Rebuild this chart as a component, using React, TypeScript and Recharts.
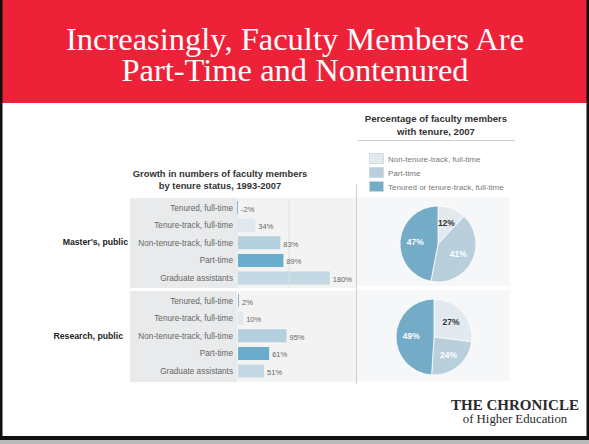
import { BarChart, Bar, XAxis, YAxis, Cell, LabelList, ReferenceLine, PieChart, Pie } from "recharts";

const categories = ["Tenured, full-time", "Tenure-track, full-time", "Non-tenure-track, full-time", "Part-time", "Graduate assistants"];
const mastersGrowth = [-2, 34, 83, 89, 180];
const researchGrowth = [2, 10, 95, 61, 51];
const barColors = ["#86b8cf", "#dfe8ee", "#b4cfdd", "#6aaccb", "#c2d8e3"];

const pieCategories = ["Non-tenure-track, full-time", "Part-time", "Tenured or tenure-track, full-time"];
const mastersTenure = [12, 41, 47];
const researchTenure = [27, 24, 49];
const pieColors = ["#e2eaef", "#b9cfdc", "#74abc6"];
const pieLabelColors = ["#333333", "#ffffff", "#ffffff"];

const SANS = "'Liberation Sans', Arial, sans-serif";
const SERIF = "'Liberation Serif', 'Times New Roman', serif";
const RADIAN = Math.PI / 180;

const toRows = (values: number[]) => categories.map((name, i) => ({ name, value: values[i] }));
const toSlices = (values: number[]) => pieCategories.map((name, i) => ({ name, value: values[i] }));

// value label to the right of each bar, sitting a bit low like the print
const barLabel = (props: any) => {
  const vb = props.viewBox ?? props;
  const x = vb.x ?? props.x;
  const y = vb.y ?? props.y;
  const w = vb.width ?? props.width ?? 0;
  const h = vb.height ?? props.height ?? 0;
  const right = Math.max(x, x + w);
  return (
    <text x={right + 3} y={y + h / 2 + 4} fontSize={7.5} fill="#666" fontFamily={SANS}>
      {props.value}%
    </text>
  );
};

// plain one-line tick so the long category names don't wrap
const categoryTick = (props: any) => (
  <text x={props.x} y={props.y} dy="0.35em" textAnchor="end" fontSize={8.2} fill="#666" fontFamily={SANS}>
    {props.payload.value}
  </text>
);

const pieLabel = (props: any) => {
  const { cx, cy, midAngle, outerRadius, index, value } = props;
  const r = outerRadius * 0.6;
  const x = cx + r * Math.cos(-midAngle * RADIAN);
  const y = cy + r * Math.sin(-midAngle * RADIAN);
  return (
    <text x={x} y={y} textAnchor="middle" dominantBaseline="central" fontSize={8.5} fontWeight="bold"
      fill={pieLabelColors[index]} fontFamily={SANS}>
      {value}%
    </text>
  );
};

const GrowthBars = ({ values, top, gap100 }: { values: number[]; top: number; gap100?: boolean }) => (
  <div style={{ position: "absolute", left: 130, top }}>
    <BarChart width={230} height={88} data={toRows(values)} layout="vertical"
      margin={{ top: 0, right: 20, bottom: 0, left: 0 }} barCategoryGap="12%">
      <XAxis type="number" domain={[-4, 200]} hide />
      <YAxis type="category" dataKey="name" width={106} axisLine={false} tickLine={false} tickSize={0} tickMargin={3}
        tick={categoryTick} interval={0} />
      {gap100 && <ReferenceLine x={100} stroke="#e2e2e2" strokeWidth={1} />}
      <Bar dataKey="value" isAnimationActive={false}>
        {values.map((_, i) => <Cell key={i} fill={barColors[i]} />)}
        <LabelList dataKey="value" content={barLabel} />
      </Bar>
    </BarChart>
  </div>
);

const TenurePie = ({ values, left, top }: { values: number[]; left: number; top: number }) => (
  <div style={{ position: "absolute", left, top }}>
    <PieChart width={96} height={88} margin={{ top: 0, right: 0, bottom: 0, left: 0 }}>
      <Pie data={toSlices(values)} dataKey="value" cx={48} cy={44} outerRadius={38} startAngle={90} endAngle={-270}
        stroke="#ffffff" strokeWidth={0.8} labelLine={false} label={pieLabel} isAnimationActive={false}>
        {values.map((_, i) => <Cell key={i} fill={pieColors[i]} />)}
      </Pie>
    </PieChart>
  </div>
);

export default function App() {
  return (
    <div style={{ position: "absolute", left: 0, top: 0, width: 589, height: 444, background: "#fff", overflow: "hidden" }}>
      <svg width={589} height={444} style={{ position: "absolute", left: 0, top: 0 }}>
        {/* red banner + title */}
        <rect x={0} y={0} width={589} height={103} fill="#ed2238" />
        <text x={295} y={50} textAnchor="middle" fontSize={32.5} fill="#fff" fontFamily={SERIF}>
          Increasingly, Faculty Members Are
        </text>
        <text x={295} y={81} textAnchor="middle" fontSize={32.5} fill="#fff" fontFamily={SERIF}>
          Part-Time and Nontenured
        </text>

        {/* left chart title */}
        <text x={220} y={177} textAnchor="middle" fontSize={9.4} fontWeight="bold" fill="#333" fontFamily={SANS}>
          Growth in numbers of faculty members
        </text>
        <text x={220} y={189} textAnchor="middle" fontSize={9.4} fontWeight="bold" fill="#333" fontFamily={SANS}>
          by tenure status, 1993-2007
        </text>

        {/* panels behind bars */}
        <rect x={130} y={198} width={108} height={90} fill="#e8eaeb" />
        <rect x={238} y={198} width={118} height={90} fill="#f3f3f3" />
        <rect x={130} y={291} width={107} height={91} fill="#e8eaeb" />
        <rect x={237} y={291} width={119} height={91} fill="#f3f3f3" />
        <line x1={356.5} y1={184} x2={356.5} y2={384} stroke="#cfcfcf" strokeWidth={1} />

        <text x={128} y={245} textAnchor="end" fontSize={8.7} fontWeight="bold" fill="#222" fontFamily={SANS}>
          Master's, public
        </text>
        <text x={123} y={339} textAnchor="end" fontSize={8.7} fontWeight="bold" fill="#222" fontFamily={SANS}>
          Research, public
        </text>

        {/* right chart title + legend */}
        <text x={436} y={122} textAnchor="middle" fontSize={9.6} fontWeight="bold" fill="#333" fontFamily={SANS}>
          Percentage of faculty members
        </text>
        <text x={436} y={135} textAnchor="middle" fontSize={9.6} fontWeight="bold" fill="#333" fontFamily={SANS}>
          with tenure, 2007
        </text>
        <line x1={358} y1={140.5} x2={515} y2={140.5} stroke="#cccccc" strokeWidth={1} />
        {pieCategories.map((name, i) => (
          <g key={name}>
            <rect x={369.5} y={153.5 + i * 14} width={14} height={10} fill={pieColors[i]} stroke="#c9d6de" strokeWidth={0.8} />
            <text x={388} y={161.5 + i * 14} fontSize={8} fill="#777" fontFamily={SANS}>{name}</text>
          </g>
        ))}

        {/* pie panels */}
        <rect x={357} y={197} width={153} height={89} fill="#f6f7f8" />
        <rect x={357} y={290} width={153} height={91} fill="#f6f7f8" />

        {/* logo */}
        <text x={515} y={410} textAnchor="middle" fontSize={15} fontWeight="bold" fill="#2a2a2a" fontFamily={SERIF}>
          THE CHRONICLE
        </text>
        <text x={515} y={423} textAnchor="middle" fontSize={12.8} fill="#2a2a2a" fontFamily={SERIF}>
          of Higher Education
        </text>

        {/* slide frame */}
        <rect x={0} y={0} width={2.5} height={440} fill="#111" />
        <rect x={586.5} y={0} width={2.5} height={440} fill="#111" />
        <rect x={0} y={436} width={589} height={4} fill="#111" />
        <rect x={0} y={440} width={589} height={4} fill="#bbbbbb" />
      </svg>

      <GrowthBars values={mastersGrowth} top={199} gap100 />
      <GrowthBars values={researchGrowth} top={292} />
      <TenurePie values={mastersTenure} left={390} top={200} />
      <TenurePie values={researchTenure} left={386} top={293} />
    </div>
  );
}
